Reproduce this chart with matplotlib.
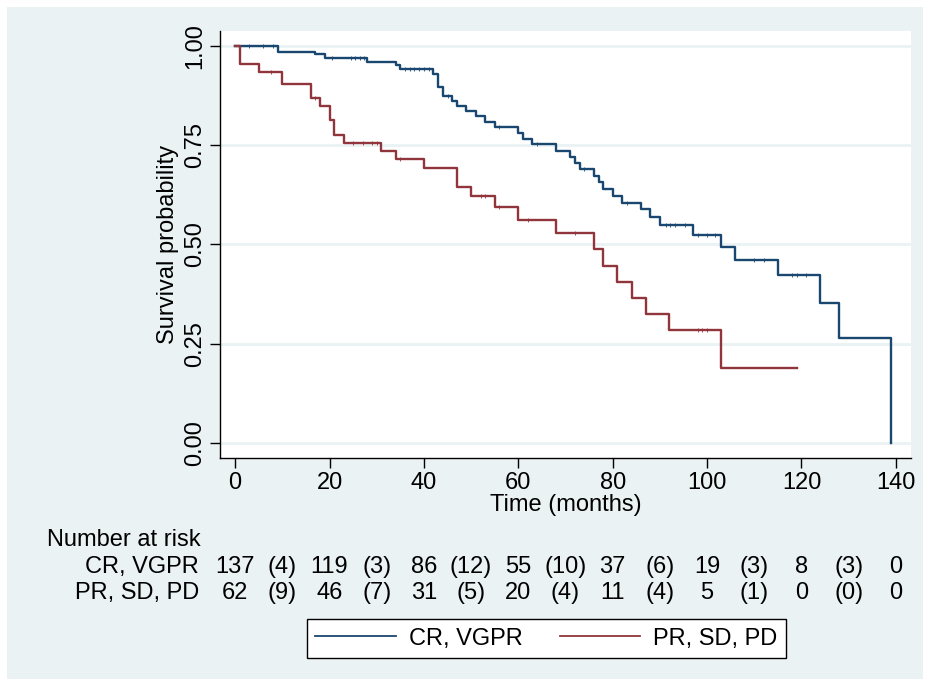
import numpy as np
import matplotlib
matplotlib.use("Agg")
import matplotlib.pyplot as plt
from matplotlib.transforms import blended_transform_factory
from matplotlib.lines import Line2D

plt.rcParams['font.family'] = ['Liberation Sans', 'DejaVu Sans']

# ---- data ----
blue_t = [0, 9, 17, 19, 28, 34, 35, 42, 43, 44, 46, 47, 49, 51, 53, 55, 60, 61, 63, 68,
          71, 72, 73, 76, 77, 78, 80, 82, 86, 88, 90, 97, 103, 106, 115, 124, 128, 139]
blue_s = [1.0, 0.985, 0.979, 0.969, 0.960, 0.952, 0.941, 0.930, 0.896, 0.874, 0.861, 0.848,
          0.836, 0.823, 0.809, 0.796, 0.781, 0.764, 0.752, 0.736, 0.720, 0.705, 0.689, 0.672,
          0.657, 0.640, 0.621, 0.604, 0.589, 0.569, 0.548, 0.523, 0.492, 0.461, 0.422, 0.352,
          0.263, 0.0]
blue_end = 139

red_t = [0, 1, 5, 10, 16, 18, 20, 21, 23, 31, 34, 40, 47, 50, 55, 60, 68, 76, 78, 81, 84,
         87, 92, 103]
red_s = [1.0, 0.953, 0.935, 0.903, 0.869, 0.848, 0.813, 0.775, 0.756, 0.736, 0.715, 0.693,
         0.645, 0.621, 0.593, 0.562, 0.528, 0.487, 0.446, 0.405, 0.365, 0.324, 0.283, 0.188]
red_end = 119

blue_cens = [3, 6, 8, 20.5, 24.5, 25.5, 26.5, 27.3, 36, 37, 38, 39, 40, 41, 45, 56, 64, 74,
             83, 91.3, 92.2, 93.2, 95.3, 98, 100, 101.7, 110, 112, 118, 119, 121]
red_cens = [7.5, 17, 25, 27, 29, 30, 35, 52, 53, 56, 62, 72, 98, 99, 100]

risk_times = [0, 20, 40, 60, 80, 100, 120, 140]
risk_blue = [137, 119, 86, 55, 37, 19, 8, 0]
risk_red = [62, 46, 31, 20, 11, 5, 0, 0]
cens_blue = [4, 3, 12, 10, 6, 3, 3]
cens_red = [9, 7, 5, 4, 4, 1, 0]

labels = ["CR, VGPR", "PR, SD, PD"]
x_ticks = [0, 20, 40, 60, 80, 100, 120, 140]
y_ticks = [0.0, 0.25, 0.5, 0.75, 1.0]

# ---- style ----
bg = '#eaf2f3'
blue = '#1a476f'
red = '#90353b'
fs = 17

fig = plt.figure(figsize=(9.3, 6.86), dpi=100, facecolor='white')
fig.patches.append(plt.Rectangle((7/930, 7/686), 916/930, 672/686, transform=fig.transFigure,
                                 facecolor=bg, edgecolor='none', zorder=-10))

W, H = 930, 686
L, R, T, B = 220, 911, 31, 458
ax = fig.add_axes([L/W, 1 - B/H, (R-L)/W, (B-T)/H])
ax.set_facecolor('white')
ax.set_xlim(-3.2, 143.2)
ax.set_ylim(-0.038, 1.037)

for sp in ['top', 'right']:
    ax.spines[sp].set_visible(False)
for sp in ['left', 'bottom']:
    ax.spines[sp].set_color('black')
    ax.spines[sp].set_linewidth(1.0)

ax.set_yticks(y_ticks)
ax.set_yticklabels([f"{v:.2f}" for v in y_ticks], rotation=90, va='center', fontsize=fs)
ax.set_xticks(x_ticks)
ax.set_xticklabels([str(v) for v in x_ticks], fontsize=fs)
ax.tick_params(direction='out', length=7, width=1.0, pad=3)
ax.yaxis.grid(True, color=bg, linewidth=2.0)
ax.set_axisbelow(True)

def draw(t, s, end, color):
    xs = list(t) + [end]
    ys = list(s) + [s[-1]]
    ax.step(xs, ys, where='post', color=color, lw=1.7, zorder=3)

draw(blue_t, blue_s, blue_end, blue)
draw(red_t, red_s, red_end, red)

def surv_at(t, s, x):
    idx = np.searchsorted(t, x, side='right') - 1
    return s[idx]

bc_y = [surv_at(blue_t, blue_s, c) for c in blue_cens]
rc_y = [surv_at(red_t, red_s, c) for c in red_cens]
ax.plot(blue_cens, bc_y, ls='none', marker='|', ms=3.5, mew=0.6, color=blue, zorder=4)
ax.plot(red_cens, rc_y, ls='none', marker='|', ms=3.5, mew=0.6, color=red, zorder=4)

ax.set_xlabel("Time (months)", fontsize=fs, labelpad=0)
ax.set_ylabel("Survival probability", fontsize=fs, labelpad=4)

# ---- number at risk table ----
tr = blended_transform_factory(ax.transData, fig.transFigure)
fig.text(47/W, 1 - 540/H, "Number at risk", fontsize=fs, ha='left', va='center')
row_y = [1 - 567/H, 1 - 593/H]
for lab, yy in zip(labels, row_y):
    fig.text(199/W, yy, lab, fontsize=fs, ha='right', va='center')
for vals, cens, yy in [(risk_blue, cens_blue, row_y[0]), (risk_red, cens_red, row_y[1])]:
    for t, v in zip(risk_times, vals):
        ax.text(t, yy, str(v), transform=tr, fontsize=fs, ha='center', va='center', clip_on=False)
    for i, c in enumerate(cens):
        tm = (risk_times[i] + risk_times[i+1]) / 2
        ax.text(tm, yy, f"({c})", transform=tr, fontsize=fs, ha='center', va='center', clip_on=False)

# ---- legend ----
handles = [Line2D([], [], color=blue, lw=1.3), Line2D([], [], color=red, lw=1.3)]
leg = fig.legend(handles, labels, loc='center', bbox_to_anchor=(546.5/W, 1 - 638.5/H),
                 ncol=2, fontsize=fs, frameon=True, fancybox=False, handlelength=3.4,
                 handletextpad=0.55, columnspacing=1.6, borderpad=0.35, borderaxespad=0)
leg.get_frame().set_edgecolor('black')
leg.get_frame().set_linewidth(1.0)
leg.get_frame().set_facecolor('white')
leg.get_frame().set_alpha(1)

fig.savefig("out.png", dpi=100, facecolor='white')
